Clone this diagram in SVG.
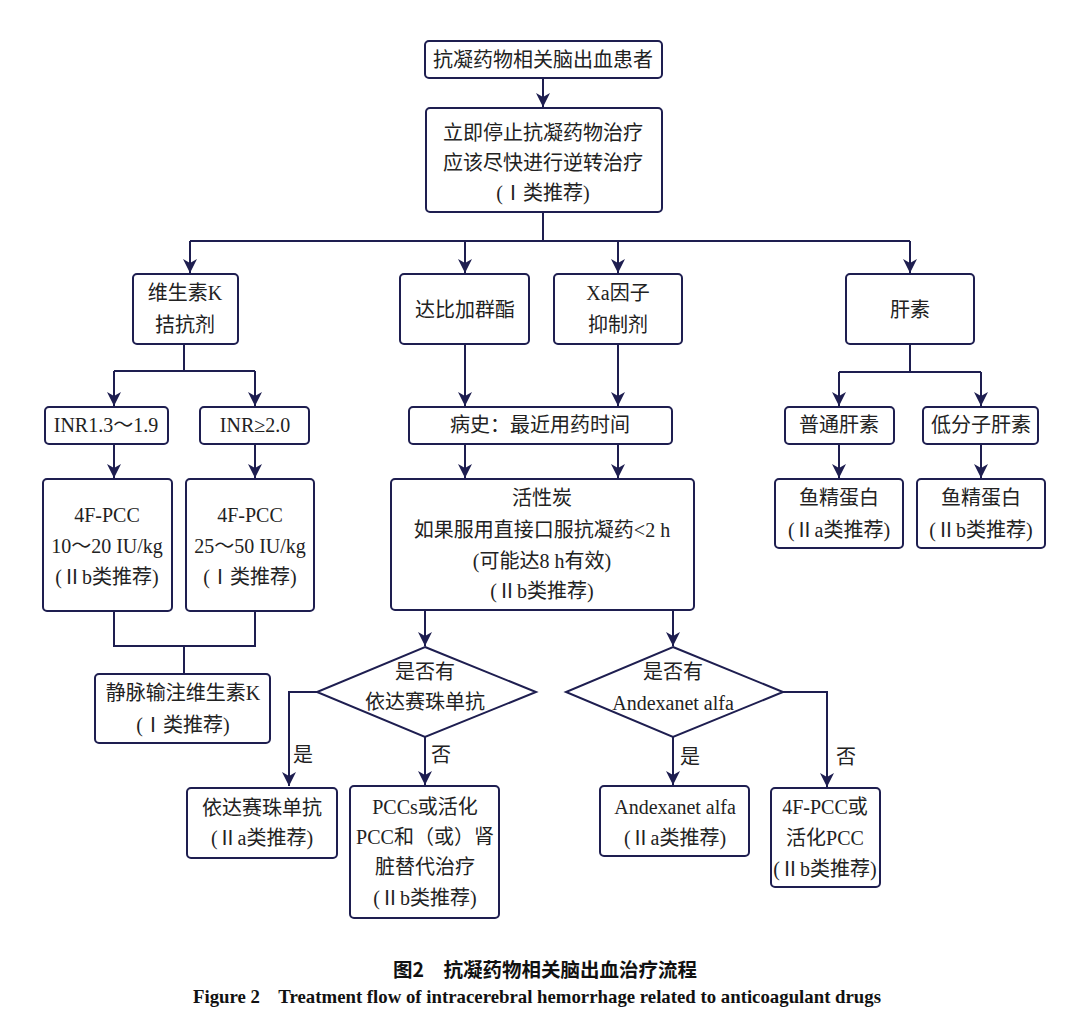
<svg xmlns="http://www.w3.org/2000/svg" width="1080" height="1023" viewBox="0 0 1080 1023">
<style>
.b{fill:#fff;stroke:#1e1e50;stroke-width:2}
.c{fill:none;stroke:#1e1e50;stroke-width:2}
.a{marker-end:url(#ah)}
text{font-family:"Liberation Serif","Noto Sans CJK SC",serif;font-size:20px;fill:#222;text-anchor:middle;dominant-baseline:central}
.cap1{font-family:"Noto Sans CJK SC","Liberation Sans",sans-serif;font-weight:bold;font-size:19.5px;fill:#111}
.cap2{font-family:"Liberation Serif",serif;font-weight:bold;font-size:18.8px;fill:#111}
</style>
<defs>
<marker id="ah" markerUnits="userSpaceOnUse" markerWidth="14" markerHeight="16" viewBox="0 0 14 16" refX="14" refY="8" orient="auto">
<path d="M0,1 L14,8 L0,15 L4,8 z" fill="#1e1e50"/>
</marker>
</defs>
<rect width="1080" height="1023" fill="#fff"/>
<g id="connectors">
<path class="c a" d="M543,78 V107"/>
<path class="c" d="M543,212 V241 M190,241 H910"/>
<path class="c a" d="M190,241 V273"/>
<path class="c a" d="M465,241 V273"/>
<path class="c a" d="M618,241 V273"/>
<path class="c a" d="M910,241 V273"/>
<path class="c" d="M184,344 V371 M114,371 H255"/>
<path class="c a" d="M114,371 V406"/>
<path class="c a" d="M255,371 V406"/>
<path class="c a" d="M114,444 V478"/>
<path class="c a" d="M255,444 V478"/>
<path class="c" d="M114,611 V646 H255 V611 M184,646 V674"/>
<path class="c a" d="M465,344 V406"/>
<path class="c a" d="M618,344 V406"/>
<path class="c a" d="M465,444 V478"/>
<path class="c a" d="M618,444 V478"/>
<path class="c" d="M910,344 V372 M839,372 H981"/>
<path class="c a" d="M839,372 V406"/>
<path class="c a" d="M981,372 V406"/>
<path class="c a" d="M839,444 V478"/>
<path class="c a" d="M981,444 V478"/>
<path class="c a" d="M425,610 V646"/>
<path class="c a" d="M673,610 V646"/>
<path class="c a" d="M317,692 H289 V786"/>
<path class="c a" d="M425,737 V785"/>
<path class="c a" d="M673,737 V785"/>
<path class="c a" d="M783,692 H827 V787"/>
<text x="303" y="755">是</text>
<text x="441" y="755">否</text>
<text x="690" y="757">是</text>
<text x="846" y="757">否</text>
</g>
<g id="n1"><rect class="b" x="425" y="41" width="237" height="37" rx="4"/><text x="543" y="60">抗凝药物相关脑出血患者</text></g>
<g id="n2"><rect class="b" x="426" y="108" width="236" height="104" rx="4"/><text x="543" y="133">立即停止抗凝药物治疗</text><text x="543" y="163">应该尽快进行逆转治疗</text><text x="543" y="193">(Ⅰ类推荐)</text></g>
<g id="n3"><rect class="b" x="133" y="274" width="105" height="70" rx="4"/><text x="185" y="293">维生素K</text><text x="185" y="325">拮抗剂</text></g>
<g id="n4"><rect class="b" x="400" y="274" width="129" height="70" rx="4"/><text x="465" y="310">达比加群酯</text></g>
<g id="n5"><rect class="b" x="554" y="274" width="128" height="70" rx="4"/><text x="618" y="293">Xa因子</text><text x="618" y="325">抑制剂</text></g>
<g id="n6"><rect class="b" x="846" y="274" width="128" height="70" rx="4"/><text x="910" y="310">肝素</text></g>
<g id="n7"><rect class="b" x="45" y="407" width="123" height="37" rx="4"/><text x="106" y="425">INR1.3～1.9</text></g>
<g id="n8"><rect class="b" x="200" y="407" width="109" height="37" rx="4"/><text x="255" y="425">INR≥2.0</text></g>
<g id="n9"><rect class="b" x="43" y="479" width="129" height="132" rx="4"/><text x="107" y="515">4F-PCC</text><text x="107" y="546">10～20 IU/kg</text><text x="107" y="577">(Ⅱb类推荐)</text></g>
<g id="n10"><rect class="b" x="186" y="479" width="128" height="132" rx="4"/><text x="250" y="515">4F-PCC</text><text x="250" y="546">25～50 IU/kg</text><text x="250" y="577">(Ⅰ类推荐)</text></g>
<g id="n11"><rect class="b" x="95" y="674" width="175" height="69" rx="4"/><text x="183" y="693">静脉输注维生素K</text><text x="183" y="725">(Ⅰ类推荐)</text></g>
<g id="n12"><rect class="b" x="409" y="407" width="263" height="37" rx="4"/><text x="540" y="425">病史：最近用药时间</text></g>
<g id="n13"><rect class="b" x="391" y="479" width="303" height="131" rx="4"/><text x="542" y="498">活性炭</text><text x="542" y="530">如果服用直接口服抗凝药&lt;2 h</text><text x="542" y="561">(可能达8 h有效)</text><text x="542" y="591">(Ⅱb类推荐)</text></g>
<g id="n14"><rect class="b" x="785" y="407" width="109" height="37" rx="4"/><text x="839" y="425">普通肝素</text></g>
<g id="n15"><rect class="b" x="923" y="407" width="115" height="37" rx="4"/><text x="981" y="425">低分子肝素</text></g>
<g id="n16"><rect class="b" x="775" y="479" width="128" height="69" rx="4"/><text x="839" y="498">鱼精蛋白</text><text x="839" y="530">(Ⅱa类推荐)</text></g>
<g id="n17"><rect class="b" x="917" y="479" width="128" height="69" rx="4"/><text x="981" y="498">鱼精蛋白</text><text x="981" y="530">(Ⅱb类推荐)</text></g>
<g id="n18"><path class="b" d="M425,647 L536,692 L425,737 L317,692 Z"/><text x="425" y="672">是否有</text><text x="425" y="702">依达赛珠单抗</text></g>
<g id="n19"><path class="b" d="M673,647 L783,692 L673,737 L566,692 Z"/><text x="673" y="672">是否有</text><text x="673" y="703">Andexanet alfa</text></g>
<g id="n20"><rect class="b" x="187" y="788" width="150" height="70" rx="4"/><text x="262" y="808">依达赛珠单抗</text><text x="262" y="838">(Ⅱa类推荐)</text></g>
<g id="n21"><rect class="b" x="350" y="786" width="149" height="132" rx="4"/><text x="425" y="807">PCCs或活化</text><text x="425" y="837">PCC和（或）肾</text><text x="425" y="867">脏替代治疗</text><text x="425" y="898">(Ⅱb类推荐)</text></g>
<g id="n22"><rect class="b" x="600" y="786" width="149" height="70" rx="4"/><text x="675" y="807">Andexanet alfa</text><text x="675" y="838">(Ⅱa类推荐)</text></g>
<g id="n23"><rect class="b" x="771" y="788" width="109" height="99" rx="4"/><text x="825" y="807">4F-PCC或</text><text x="825" y="838">活化PCC</text><text x="825" y="869">(Ⅱb类推荐)</text></g>
<g id="caption">
<text class="cap1" x="545" y="968">图2　抗凝药物相关脑出血治疗流程</text>
<text class="cap2" x="537" y="996" xml:space="preserve">Figure 2    Treatment flow of intracerebral hemorrhage related to anticoagulant drugs</text>
</g>
</svg>
